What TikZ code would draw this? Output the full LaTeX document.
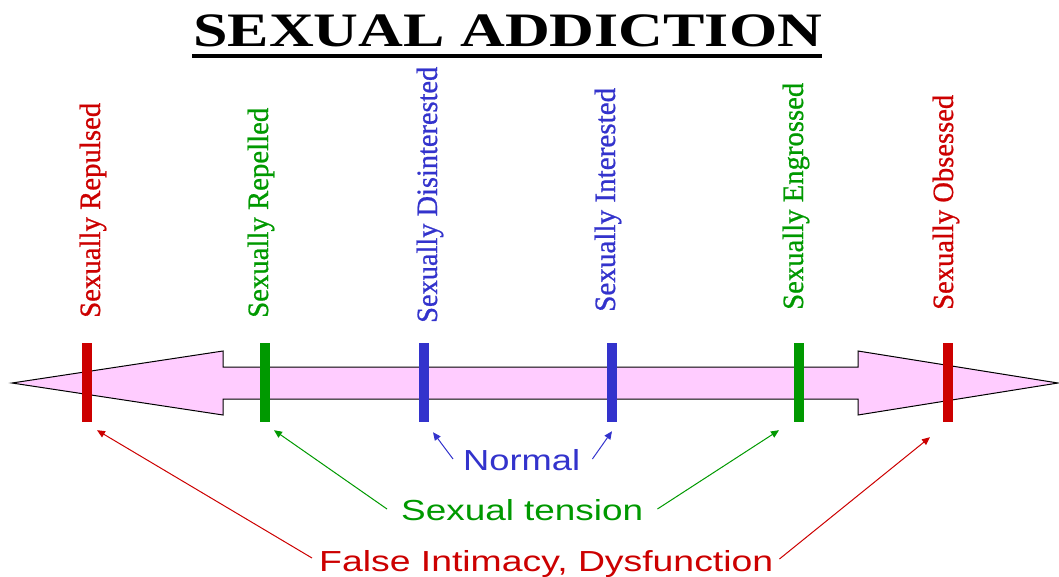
\documentclass[tikz,border=0pt]{standalone}
\usepackage{fontspec}
\setmainfont{Liberation Serif}
\newfontfamily\arialfont{Liberation Sans}
\newfontfamily\labfont[FakeBold=0.8]{Liberation Serif}
\usetikzlibrary{calc,arrows.meta}
\definecolor{cred}{HTML}{CC0000}
\definecolor{cgreen}{HTML}{009900}
\definecolor{cblue}{HTML}{3333CC}
\definecolor{cpink}{HTML}{FFCCFF}
\newcommand\vlab[2]{\resizebox{#1pt}{\height}{\labfont\fontsize{29.5}{30}\selectfont #2}}
\newcommand\hlab[2]{\resizebox{#1pt}{\height}{\arialfont\fontsize{29}{30}\selectfont #2}}
\begin{document}
\begin{tikzpicture}[x=1pt,y=1pt,
  lbl/.style={rotate=90,anchor=base west,inner sep=0pt},
  txt/.style={anchor=base west,inner sep=0pt},
  tickbar/.style={draw=none,fill=#1,minimum width=9.5pt,minimum height=79pt,inner sep=0pt},
  conn/.style={draw=#1,line width=1pt,-{Triangle[length=8pt,width=7pt]}}]
\useasboundingbox (0,0) rectangle (1059,-576);
% title
\node[txt] (title) at (193,-46.5) {\resizebox{629pt}{\height}{\fontsize{48}{48}\selectfont\bfseries SEXUAL ADDICTION}};
\draw[line width=4.5pt] ($(title.base west)+(-1,-9.5)$) -- ($(title.base east)+(0,-9.5)$);
% double block arrow
\draw[fill=cpink,line width=1pt,line join=miter] (12,-383) -- (223,-351) -- (223,-367) -- (858,-367) -- (858,-351) -- (1058,-383) -- (858,-415) -- (858,-399) -- (223,-399) -- (223,-415) -- cycle;
% ticks
\node[tickbar=cred]   (t1) at (87,-382.5) {};
\node[tickbar=cgreen] (t2) at (265,-382.5) {};
\node[tickbar=cblue]  (t3) at (424,-382.5) {};
\node[tickbar=cblue]  (t4) at (612,-382.5) {};
\node[tickbar=cgreen] (t5) at (799,-382.5) {};
\node[tickbar=cred]   (t6) at (948,-382.5) {};
% vertical labels
\node[lbl,text=cred]   (l1) at (100,-318) {\vlab{215}{Sexually Repulsed}};
\node[lbl,text=cgreen] (l2) at (268,-318) {\vlab{210}{Sexually Repelled}};
\node[lbl,text=cblue]  (l3) at (437,-323) {\vlab{256}{Sexually Disinterested}};
\node[lbl,text=cblue]  (l4) at (615,-312) {\vlab{224}{Sexually Interested}};
\node[lbl,text=cgreen] (l5) at (803,-310) {\vlab{227}{Sexually Engrossed}};
\node[lbl,text=cred]   (l6) at (953,-310) {\vlab{215}{Sexually Obsessed}};
% bottom labels
\node[txt,text=cblue]  (normal)  at (463,-470) {\hlab{117}{Normal}};
\node[txt,text=cgreen] (tension) at (401,-520) {\hlab{242}{Sexual tension}};
\node[txt,text=cred]   (false)   at (319,-571) {\hlab{454}{False Intimacy, Dysfunction}};
% connectors
\draw[conn=cred]   ($(false.base west)+(-7,13)$)   -- ($(t1.south)+(10,-8)$);
\draw[conn=cgreen] ($(tension.base west)+(-14,11)$) -- ($(t2.south)+(9,-8)$);
\draw[conn=cblue]  ($(normal.base west)+(-10,11)$)  -- ($(t3.south)+(9,-10)$);
\draw[conn=cblue]  ($(normal.base east)+(12,11)$)   -- ($(t4.south)+(0,-9)$);
\draw[conn=cgreen] ($(tension.base east)+(14,11)$)  -- ($(t5.south)+(-20,-8)$);
\draw[conn=cred]   ($(false.base east)+(6,12)$)     -- ($(t6.south)+(-18,-15)$);
\end{tikzpicture}
\end{document}
